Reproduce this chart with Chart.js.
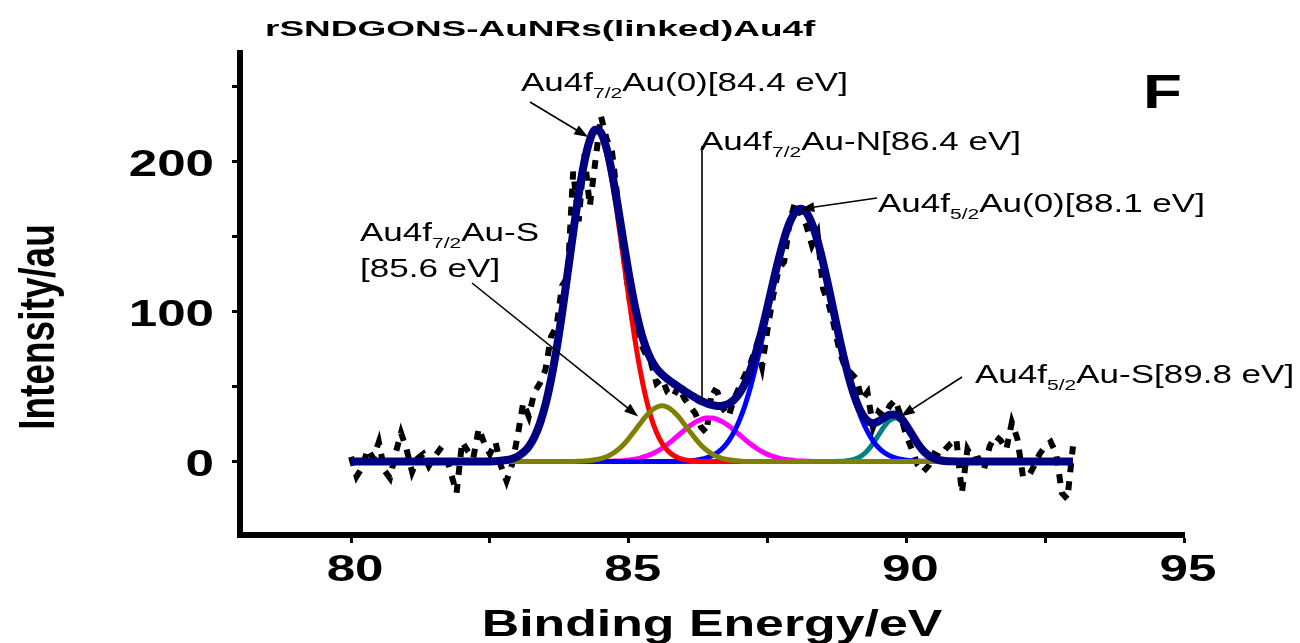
<!DOCTYPE html>
<html>
<head>
<meta charset="utf-8">
<script src="https://cdn.jsdelivr.net/npm/chart.js@4.4.1/dist/chart.umd.min.js"></script>
<style>
  html, body { margin: 0; padding: 0; background: #fff; }
</style>
</head>
<body>
<canvas id="xps" width="1300" height="643"></canvas>
<script>
// raw Au4f spectrum
const rawEnergy = [
  80.0, 80.1, 80.2, 80.3, 80.4, 80.5, 80.6, 80.7, 80.8, 80.9,
  81.0, 81.1, 81.2, 81.3, 81.4, 81.5, 81.6, 81.7, 81.8, 81.9,
  82.0, 82.1, 82.2, 82.3, 82.4, 82.5, 82.6, 82.7, 82.8, 82.9,
  83.0, 83.1, 83.2, 83.3, 83.4, 83.5, 83.6, 83.7, 83.8, 83.9,
  84.0, 84.1, 84.2, 84.3, 84.4, 84.5, 84.6, 84.7, 84.8, 84.9,
  85.0, 85.1, 85.2, 85.3, 85.4, 85.5, 85.6, 85.7, 85.8, 85.9,
  86.0, 86.1, 86.2, 86.3, 86.4, 86.5, 86.6, 86.7, 86.8, 86.9,
  87.0, 87.1, 87.2, 87.3, 87.4, 87.5, 87.6, 87.7, 87.8, 87.9,
  88.0, 88.1, 88.2, 88.3, 88.4, 88.5, 88.6, 88.7, 88.8, 88.9,
  89.0, 89.1, 89.2, 89.3, 89.4, 89.5, 89.6, 89.7, 89.8, 89.9,
  90.0, 90.1, 90.2, 90.3, 90.4, 90.5, 90.6, 90.7, 90.8, 90.9,
  91.0, 91.1, 91.2, 91.3, 91.4, 91.5, 91.6, 91.7, 91.8, 91.9,
  92.0, 92.1, 92.2, 92.3, 92.4, 92.5, 92.6, 92.7, 92.8, 92.9,
  93.0
];
const rawCounts = [
  3, -10, -4, 8, 2, 13, -6, -11, 5, 19,
  8, -7, 2, 5, -3, 3, 8, 5, -8, -21,
  13, 7, 2, 22, 12, 5, 13, -3, -13, -2,
  17, 39, 30, 46, 52, 61, 83, 90, 117, 123,
  193, 160, 205, 170, 200, 230, 215, 206, 175, 140,
  112, 88, 80, 72, 66, 52, 55, 46, 43, 50,
  42, 37, 32, 23, 19, 48, 46, 35, 30, 42,
  50, 58, 66, 77, 63, 88, 110, 128, 133, 160,
  173, 165, 157, 144, 152, 115, 105, 90, 73, 62,
  59, 55, 41, 46, 23, 33, 30, 37, 41, 30,
  17, 8, -2, -7, -3, 5, 3, 8, 12, 15,
  -21, 8, 1, 2, -5, 10, 17, 14, 8, 26,
  15, -10, -10, -3, 5, 10, 13, 5, -21, -25,
  10
];

// energy grid of the fitted curves
const fitEnergy = [
  80, 81, 82, 82.5,
  82.8, 82.9, 83.0, 83.1, 83.2, 83.3, 83.4, 83.5, 83.6, 83.7,
  83.8, 83.9, 84.0, 84.1, 84.2, 84.3, 84.4, 84.5, 84.6, 84.7,
  84.8, 84.9, 85.0, 85.1, 85.2, 85.3, 85.4, 85.5, 85.6, 85.7,
  85.8, 85.9, 86.0, 86.1, 86.2, 86.3, 86.4, 86.5, 86.6, 86.7,
  86.8, 86.9, 87.0, 87.1, 87.2, 87.3, 87.4, 87.5, 87.6, 87.7,
  87.8, 87.9, 88.0, 88.1, 88.2, 88.3, 88.4, 88.5, 88.6, 88.7,
  88.8, 88.9, 89.0, 89.1, 89.2, 89.3, 89.4, 89.5, 89.6, 89.7,
  89.8, 89.9, 90.0, 90.1, 90.2, 90.3, 90.4, 90.5, 90.6, 90.7,
  90.8, 90.9, 91.0,
  92, 93
];
// Au4f7/2 Au(0) 84.4 eV
const fitAu0a = [
  0, 0, 0, 0,
  0.9, 1.8, 3.3, 5.9, 9.9, 16.1, 25.2, 37.7, 54.3, 74.7,
  98.8, 125.3, 152.4, 177.8, 198.9, 213.5, 219.8, 217.1, 205.6, 186.8,
  162.9, 136.2, 109.2, 84.0, 62.0, 43.9, 29.8, 19.4, 12.1, 7.3,
  4.2, 2.3, 1.2, 0.6, 0.3, 0, 0, 0, 0, 0,
  0, 0, 0, 0, 0, 0, 0, 0, 0, 0,
  0, 0, 0, 0, 0, 0, 0, 0, 0, 0,
  0, 0, 0, 0, 0, 0, 0, 0, 0, 0,
  0, 0, 0, 0, 0, 0, 0, 0, 0, 0,
  0, 0, 0,
  0, 0
];
// Au4f7/2 Au-S 85.6 eV
const fitAuSa = [
  0, 0, 0, 0,
  0, 0, 0, 0, 0, 0, 0, 0, 0, 0,
  0, 0, 0, 0.1, 0.3, 0.6, 1.1, 1.9, 3.1, 5.0,
  7.6, 11.0, 15.2, 20.0, 24.9, 29.6, 33.5, 36.1, 37.0, 36.1,
  33.5, 29.6, 24.9, 20.0, 15.2, 11.0, 7.6, 5.0, 3.1, 1.9,
  1.1, 0.6, 0.3, 0, 0, 0, 0, 0, 0, 0,
  0, 0, 0, 0, 0, 0, 0, 0, 0, 0,
  0, 0, 0, 0, 0, 0, 0, 0, 0, 0,
  0, 0, 0, 0, 0, 0, 0, 0, 0, 0,
  0, 0, 0,
  0, 0
];
// Au4f7/2 Au-N 86.4 eV
const fitAuN = [
  0, 0, 0, 0,
  0, 0, 0, 0, 0, 0, 0, 0, 0, 0,
  0, 0, 0, 0, 0, 0, 0, 0, 0, 0.2,
  0.3, 0.5, 0.9, 1.4, 2.2, 3.3, 4.7, 6.5, 8.8, 11.4,
  14.4, 17.6, 20.7, 23.7, 26.2, 27.9, 28.9, 28.9, 27.9, 26.2,
  23.7, 20.7, 17.6, 14.4, 11.4, 8.8, 6.5, 4.7, 3.3, 2.2,
  1.4, 0.9, 0.5, 0.3, 0.2, 0, 0, 0, 0, 0,
  0, 0, 0, 0, 0, 0, 0, 0, 0, 0,
  0, 0, 0, 0, 0, 0, 0, 0, 0, 0,
  0, 0, 0,
  0, 0
];
// Au4f5/2 Au(0) 88.1 eV
const fitAu0b = [
  0, 0, 0, 0,
  0, 0, 0, 0, 0, 0, 0, 0, 0, 0,
  0, 0, 0, 0, 0, 0, 0, 0, 0, 0,
  0, 0, 0, 0, 0, 0, 0, 0, 0, 0,
  0, 0.1, 0.2, 0.4, 0.8, 1.4, 2.3, 3.7, 5.9, 9.1,
  13.6, 19.8, 27.8, 38.0, 50.4, 64.9, 81.1, 98.4, 115.9, 132.4,
  147.0, 158.3, 165.5, 168.0, 165.5, 158.3, 147.0, 132.4, 115.9, 98.4,
  81.1, 64.9, 50.4, 38.0, 27.8, 19.8, 13.6, 9.1, 5.9, 3.7,
  2.3, 1.4, 0.8, 0.4, 0.2, 0.1, 0, 0, 0, 0,
  0, 0, 0,
  0, 0
];
// Au4f5/2 Au-S 89.8 eV
const fitAuSb = [
  0, 0, 0, 0,
  0, 0, 0, 0, 0, 0, 0, 0, 0, 0,
  0, 0, 0, 0, 0, 0, 0, 0, 0, 0,
  0, 0, 0, 0, 0, 0, 0, 0, 0, 0,
  0, 0, 0, 0, 0, 0, 0, 0, 0, 0,
  0, 0, 0, 0, 0, 0, 0, 0, 0, 0,
  0, 0, 0, 0, 0, 0, 0, 0, 0, 0,
  0.1, 0.3, 0.8, 1.9, 3.9, 7.2, 11.9, 17.6, 23.2, 27.4,
  29.0, 27.4, 23.2, 17.6, 11.9, 7.2, 3.9, 1.9, 0.8, 0.3,
  0.1, 0, 0,
  0, 0
];
// cumulative fit envelope
const fitSum = [
  0, 0, 0, 0,
  0.9, 1.8, 3.3, 5.9, 9.9, 16.1, 25.2, 37.7, 54.3, 74.7,
  98.8, 125.3, 152.4, 177.9, 199.2, 214.1, 220.9, 219.0, 208.7, 192.0,
  170.8, 147.7, 125.3, 105.4, 89.1, 76.8, 68.0, 62.0, 57.9, 54.8,
  52.1, 49.6, 47.0, 44.7, 42.5, 40.3, 38.8, 37.6, 36.9, 37.2,
  38.4, 41.1, 45.7, 52.4, 61.8, 73.7, 87.6, 103.1, 119.2, 134.6,
  148.4, 159.2, 166.0, 168.3, 165.7, 158.3, 147.0, 132.4, 115.9, 98.4,
  81.2, 65.2, 51.2, 39.9, 31.7, 27.0, 25.5, 26.7, 29.1, 31.1,
  31.3, 28.8, 24.0, 18.0, 12.1, 7.3, 3.9, 1.9, 0.8, 0.3,
  0.1, 0, 0,
  0, 0
];

const xTicks = [80, 82.5, 85, 87.5, 90, 92.5, 95];
const xTickLabels = [80, 85, 90, 95];
const yTicks = [0, 50, 100, 150, 200, 250];
const yTickLabels = [0, 100, 200];

const FONT = '"Liberation Sans", Arial, Helvetica, sans-serif';

function pairs(xs, ys) {
  return xs.map((x, i) => ({ x: x, y: ys[i] }));
}

// the source figure is stretched sideways, so text is drawn with a horizontal scale
function wideText(ctx, str, x, y, font, sx, align) {
  ctx.save();
  ctx.font = font;
  const w = ctx.measureText(str).width * sx;
  let left = x;
  if (align === 'center') left = x - w / 2;
  else if (align === 'right') left = x - w;
  ctx.translate(left, y);
  ctx.scale(sx, 1);
  ctx.textAlign = 'left';
  ctx.textBaseline = 'alphabetic';
  ctx.fillText(str, 0, 0);
  ctx.restore();
  return w;
}

// label with subscript parts: [text, isSub]
function richLabel(ctx, parts, x, y) {
  let cx = x;
  parts.forEach(p => {
    if (p[1]) cx += wideText(ctx, p[0], cx, y + 7, '15px ' + FONT, 1.4, 'left');
    else cx += wideText(ctx, p[0], cx, y, '25px ' + FONT, 1.4, 'left');
  });
}

function arrow(ctx, x1, y1, x2, y2) {
  const a = Math.atan2(y2 - y1, x2 - x1);
  const len = 14, half = 5;
  ctx.save();
  ctx.strokeStyle = '#000';
  ctx.fillStyle = '#000';
  ctx.lineWidth = 1.6;
  ctx.beginPath();
  ctx.moveTo(x1, y1);
  ctx.lineTo(x2 - Math.cos(a) * len * 0.8, y2 - Math.sin(a) * len * 0.8);
  ctx.stroke();
  ctx.beginPath();
  ctx.moveTo(x2, y2);
  ctx.lineTo(x2 - Math.cos(a) * len + Math.sin(a) * half, y2 - Math.sin(a) * len - Math.cos(a) * half);
  ctx.lineTo(x2 - Math.cos(a) * len - Math.sin(a) * half, y2 - Math.sin(a) * len + Math.cos(a) * half);
  ctx.closePath();
  ctx.fill();
  ctx.restore();
}

const decor = {
  id: 'decor',
  afterDraw(chart) {
    const ctx = chart.ctx;
    const xs = chart.scales.x, ys = chart.scales.y;
    const area = chart.chartArea;
    ctx.save();
    ctx.fillStyle = '#000';

    // tick labels
    xTickLabels.forEach(v => {
      wideText(ctx, String(v), xs.getPixelForValue(v) + 4, area.bottom + 46, 'bold 36px ' + FONT, 1.42, 'center');
    });
    yTickLabels.forEach(v => {
      wideText(ctx, String(v), 214, ys.getPixelForValue(v) + 15, 'bold 36px ' + FONT, 1.42, 'right');
    });

    // axis titles
    wideText(ctx, 'Binding Energy/eV', (area.left + area.right) / 2 - 0, 636, 'bold 37px ' + FONT, 1.4, 'center');
    ctx.save();
    ctx.translate(54, 327);
    ctx.rotate(-Math.PI / 2);
    ctx.scale(1, 1.35);
    ctx.font = 'bold 37px ' + FONT;
    ctx.textAlign = 'center';
    ctx.fillText('Intensity/au', 0, 0);
    ctx.restore();

    // title and panel letter
    wideText(ctx, 'rSNDGONS-AuNRs(linked)Au4f', 265, 36, 'bold 22px ' + FONT, 1.68, 'left');
    wideText(ctx, 'F', 1143, 108, 'bold 49px ' + FONT, 1.3, 'left');

    // peak labels
    richLabel(ctx, [['Au4f'], ['7/2', 1], ['Au(0)[84.4 eV]']], 521, 91);
    richLabel(ctx, [['Au4f'], ['7/2', 1], ['Au-N[86.4 eV]']], 700, 150);
    richLabel(ctx, [['Au4f'], ['5/2', 1], ['Au(0)[88.1 eV]']], 878, 212);
    richLabel(ctx, [['Au4f'], ['7/2', 1], ['Au-S']], 360, 241);
    richLabel(ctx, [['[85.6 eV]']], 360, 277);
    richLabel(ctx, [['Au4f'], ['5/2', 1], ['Au-S[89.8 eV]']], 975, 383);

    // pointers
    arrow(ctx, 530, 102, xs.getPixelForValue(84.27), ys.getPixelForValue(216));
    arrow(ctx, 877, 198, xs.getPixelForValue(88.09), ys.getPixelForValue(168));
    arrow(ctx, 472, 283, xs.getPixelForValue(85.17), ys.getPixelForValue(30));
    arrow(ctx, 962, 377, xs.getPixelForValue(89.9), ys.getPixelForValue(30));
    ctx.strokeStyle = '#000';
    ctx.lineWidth = 1.6;
    ctx.beginPath();
    ctx.moveTo(xs.getPixelForValue(86.32), 146);
    ctx.lineTo(xs.getPixelForValue(86.32), ys.getPixelForValue(40));
    ctx.stroke();
    ctx.restore();
  }
};

function curve(label, ys, color, width, order) {
  return {
    label: label,
    data: pairs(fitEnergy, ys),
    borderColor: color,
    borderWidth: width,
    pointRadius: 0,
    cubicInterpolationMode: 'monotone',
    fill: false,
    order: order
  };
}

new Chart(document.getElementById('xps'), {
  type: 'line',
  data: {
    datasets: [
      {
        label: 'Raw',
        data: pairs(rawEnergy, rawCounts),
        borderColor: '#000',
        borderWidth: 6,
        borderDash: [9, 9],
        borderCapStyle: 'butt',
        pointRadius: 0,
        tension: 0,
        fill: false,
        order: 6
      },
      curve('Au4f5/2 Au-S', fitAuSb, '#008080', 5, 5),
      curve('Au4f7/2 Au-N', fitAuN, '#ff00ff', 5, 4),
      curve('Au4f5/2 Au(0)', fitAu0b, '#0000ff', 5, 3),
      curve('Au4f7/2 Au(0)', fitAu0a, '#ff0000', 5, 2),
      curve('Au4f7/2 Au-S', fitAuSa, '#808000', 5, 1),
      curve('Envelope', fitSum, '#000080', 8, 0)
    ]
  },
  options: {
    responsive: false,
    animation: false,
    devicePixelRatio: 1,
    layout: { padding: { top: 53, right: 116, left: 0, bottom: 0 } },
    plugins: { legend: { display: false }, tooltip: { enabled: false }, title: { display: false } },
    scales: {
      x: {
        type: 'linear',
        min: 78,
        max: 95,
        afterBuildTicks: s => { s.ticks = xTicks.map(v => ({ value: v })); },
        afterFit: s => { s.height = 108; },
        ticks: { display: false },
        grid: { drawOnChartArea: false, drawTicks: true, tickLength: 8, tickWidth: 3, tickColor: '#000' },
        border: { display: true, color: '#000', width: 6 }
      },
      y: {
        type: 'linear',
        min: -49,
        max: 272,
        afterBuildTicks: s => { s.ticks = yTicks.map(v => ({ value: v })); },
        afterFit: s => { s.width = 240; },
        ticks: { display: false },
        grid: { drawOnChartArea: false, drawTicks: true, tickLength: 8, tickWidth: 3, tickColor: '#000' },
        border: { display: true, color: '#000', width: 6 }
      }
    }
  },
  plugins: [decor]
});
</script>
</body>
</html>
